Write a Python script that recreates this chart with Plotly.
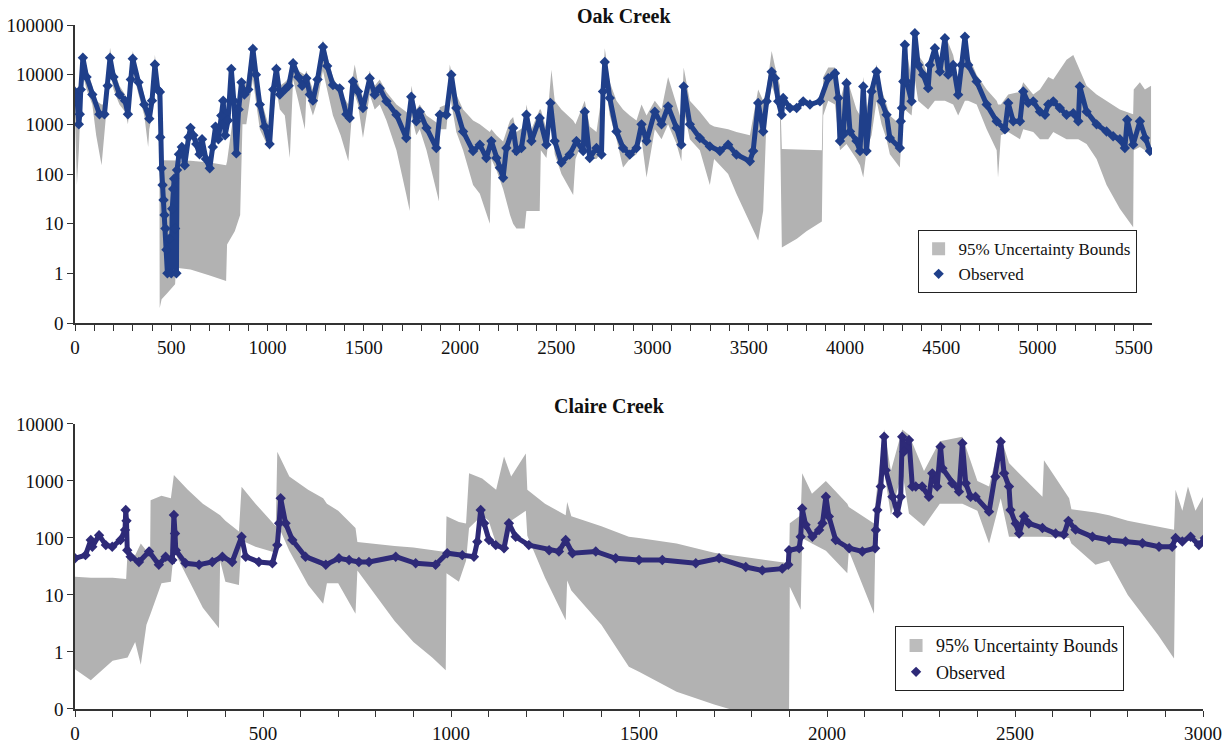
import plotly.graph_objects as go

# ---------------- Oak Creek data ----------------
oak_obs_x = [0, 10, 20, 25, 30, 41, 60, 90, 127, 153, 170, 182, 200, 231, 260, 275, 290, 300, 330, 360,
             386, 400, 415, 430, 441, 443, 450, 455, 460, 465, 470, 475, 480, 490, 500, 505, 510, 515, 520, 527,
             530, 540, 555, 570, 590, 600, 615, 630, 647, 660, 680, 700, 716, 730, 745, 760, 770, 780, 795, 812,
             825, 838, 850, 865, 880, 900, 924, 940, 960, 985, 1011, 1030, 1046, 1064, 1090, 1110, 1133, 1160, 1180, 1202,
             1220, 1236, 1260, 1288, 1310, 1340, 1375, 1410, 1427, 1444, 1470, 1496, 1531, 1557, 1583, 1618, 1670, 1721, 1747, 1773,
             1791, 1826, 1877, 1895, 1929, 1955, 1981, 2016, 2068, 2103, 2137, 2163, 2189, 2207, 2224, 2241, 2276, 2293, 2319, 2345,
             2371, 2414, 2449, 2470, 2492, 2527, 2570, 2605, 2640, 2648, 2674, 2709, 2735, 2743, 2752, 2778, 2813, 2847, 2882, 2917,
             2943, 2969, 3012, 3047, 3081, 3125, 3150, 3162, 3194, 3246, 3298, 3350, 3393, 3436, 3506, 3523, 3549, 3575, 3593, 3619,
             3636, 3653, 3671, 3679, 3714, 3749, 3783, 3818, 3870, 3913, 3948, 3965, 3974, 3991, 4008, 4026, 4060, 4078, 4095, 4112,
             4138, 4164, 4190, 4216, 4233, 4285, 4290, 4296, 4303, 4311, 4320, 4346, 4363, 4380, 4406, 4432, 4441, 4467, 4493, 4519,
             4536, 4562, 4588, 4605, 4623, 4640, 4684, 4736, 4788, 4831, 4848, 4874, 4909, 4926, 4952, 4978, 5013, 5039, 5056, 5082,
             5116, 5151, 5186, 5212, 5220, 5255, 5307, 5359, 5393, 5428, 5454, 5466, 5497, 5532, 5558, 5584]
oak_obs_y = [4500, 3500, 1000, 1600, 5000, 22000, 9000, 4000, 1600, 1600, 6000, 22000, 9000, 4000, 3000, 1600, 8000, 21000, 7000, 2500,
             1300, 3000, 16000, 5000, 4500, 550, 130, 60, 30, 15, 8, 3, 1, 5, 1, 20, 50, 80, 8, 1,
             120, 250, 350, 150, 550, 850, 600, 400, 250, 500, 200, 130, 350, 900, 500, 1500, 3000, 600, 1200, 13000,
             3000, 260, 2000, 7000, 4000, 5000, 33000, 10000, 2500, 900, 400, 5000, 13000, 4000, 5000, 6000, 17000, 9000, 6000, 8500,
             4000, 3000, 8000, 36000, 15000, 6200, 5300, 1600, 1340, 7300, 4600, 2130, 8500, 3940, 5350, 2900, 1560, 530, 3600, 1150,
             1800, 845, 335, 1560, 1560, 10000, 2130, 720, 290, 390, 210, 460, 210, 133, 84, 335, 845, 290, 335, 1560,
             460, 1340, 390, 2700, 460, 170, 246, 460, 290, 1800, 210, 335, 246, 4600, 18000, 3400, 720, 335, 246, 335,
             1000, 460, 1800, 1000, 2300, 845, 390, 5800, 1000, 530, 360, 290, 390, 246, 180, 290, 2700, 720, 2900, 11500,
             8500, 2900, 1560, 3400, 2130, 2130, 2900, 2500, 2900, 8500, 10700, 3400, 460, 620, 6700, 720, 460, 290, 5800, 290,
             4600, 11500, 2900, 1560, 530, 335, 1150, 2130, 7300, 40000, 7300, 2900, 68000, 15700, 10000, 5350, 15700, 34000, 11500, 54000,
             10000, 15700, 3940, 15700, 58000, 15700, 7300, 2500, 1150, 790, 2700, 1150, 1150, 4600, 2700, 2900, 1800, 1560, 2500, 2900,
             2130, 1560, 1680, 1150, 5800, 1800, 1000, 720, 575, 500, 335, 1240, 390, 1150, 530, 290]

oak_band_x = [0, 10, 20, 30, 41, 60, 90, 110, 138, 155, 170, 182, 200, 231, 260, 275, 290, 300, 330, 360,
              380, 386, 400, 415, 430, 438, 440, 450, 480, 520, 525, 600, 700, 785, 790, 830, 858, 870, 890, 924,
              960, 1011, 1030, 1046, 1064, 1090, 1116, 1133, 1160, 1194, 1202, 1236, 1260, 1288, 1340, 1380, 1420, 1444, 1453, 1470,
              1496, 1531, 1557, 1583, 1618, 1670, 1720, 1739, 1747, 1773, 1791, 1826, 1891, 1895, 1929, 1947, 1981, 2016, 2068, 2103,
              2155, 2163, 2189, 2224, 2260, 2276, 2293, 2336, 2345, 2371, 2414, 2420, 2449, 2475, 2492, 2527, 2588, 2600, 2648, 2674,
              2709, 2743, 2752, 2778, 2813, 2847, 2882, 2917, 2943, 2969, 3012, 3047, 3081, 3125, 3150, 3162, 3194, 3246, 3298, 3320,
              3393, 3436, 3506, 3549, 3575, 3593, 3619, 3636, 3662, 3672, 3750, 3800, 3880, 3887, 3913, 3948, 3974, 4008, 4060, 4078,
              4095, 4112, 4138, 4164, 4190, 4216, 4233, 4285, 4294, 4311, 4346, 4363, 4380, 4406, 4432, 4467, 4493, 4519, 4562, 4588,
              4623, 4640, 4684, 4736, 4788, 4795, 4810, 4848, 4909, 4926, 4978, 5013, 5056, 5082, 5151, 5186, 5212, 5255, 5307, 5359,
              5428, 5497, 5500, 5532, 5558, 5590]
oak_band_hi = [6000, 5000, 5000, 8000, 28000, 14000, 6000, 3000, 2500, 2500, 9000, 35000, 14000, 6000, 4000, 2500, 10000, 30000, 10000, 4000,
               2000, 2000, 4500, 25000, 8000, 6000, 600, 190, 190, 190, 190, 185, 170, 150, 180, 2500, 3000, 5000, 7000, 45000,
               4000, 800, 7000, 18000, 6000, 7000, 9000, 22000, 12000, 10000, 12000, 5000, 12000, 50000, 9000, 4500, 2500, 10000, 16000, 7000,
               3500, 12000, 6000, 8000, 4500, 2500, 1800, 1500, 6000, 2000, 2500, 1500, 1000, 2200, 2500, 16000, 4000, 2000, 1200, 1000,
               700, 800, 600, 450, 1200, 1400, 700, 900, 2500, 800, 2000, 2000, 800, 12500, 3000, 2000, 1200, 1000, 3000, 900,
               700, 6000, 34000, 7000, 3000, 2000, 1500, 1200, 2500, 1500, 3000, 2000, 9000, 2500, 1200, 14000, 3000, 1800, 1000, 900,
               800, 700, 600, 5000, 3000, 5000, 30000, 15000, 6000, 320, 310, 300, 300, 9000, 14000, 14000, 3000, 9000, 2000, 1500,
               9000, 2000, 7000, 16000, 5000, 2500, 1500, 1000, 5000, 50000, 8000, 75000, 25000, 18000, 9000, 40000, 18000, 65000, 25000, 8000,
               70000, 25000, 10000, 5000, 3000, 2500, 2500, 4000, 4500, 7000, 4000, 5000, 9000, 8000, 20000, 25000, 15000, 6000, 4000, 3000,
               2000, 1600, 5000, 7000, 5000, 6000]
oak_band_lo = [1500, 60, 300, 3000, 10000, 5000, 2500, 600, 150, 800, 3500, 12000, 5000, 2500, 1800, 1000, 4000, 12000, 4000, 1500,
               350, 800, 1500, 8000, 3000, 2500, 0.2, 0.3, 0.4, 0.6, 1.3, 1.2, 0.9, 0.7, 3.8, 7, 15, 1000, 1000, 8000,
               800, 300, 1500, 5000, 2000, 1500, 210, 8000, 3000, 800, 4000, 1500, 3000, 12000, 1500, 600, 180, 3000, 4000, 2500,
               530, 4000, 2000, 2500, 1200, 300, 40, 18, 1500, 600, 800, 300, 28, 800, 800, 4000, 700, 300, 60, 40,
               10, 200, 120, 50, 15, 10, 8, 8, 18, 18, 18, 300, 210, 1500, 250, 100, 38, 200, 600, 200,
               200, 300, 8000, 1500, 500, 135, 200, 250, 500, 85, 800, 500, 1000, 400, 180, 2000, 500, 300, 60, 200,
               100, 40, 10, 4.6, 18, 1500, 6000, 4000, 1500, 3.3, 5, 7, 11, 1500, 3000, 2500, 300, 400, 200, 150,
               85, 300, 600, 3000, 1000, 500, 250, 135, 600, 2000, 1500, 8000, 3000, 2500, 2000, 3000, 3000, 3000, 2500, 1500,
               3000, 3000, 2500, 800, 300, 85, 600, 700, 500, 800, 700, 500, 500, 700, 500, 500, 500, 400, 200, 60,
               20, 8.5, 300, 350, 300, 250]

# ---------------- Claire Creek data ----------------
claire_obs_x = [0, 28, 42, 46, 64, 82, 99, 121, 133, 135, 137, 139, 148, 170, 197, 223, 241, 259, 263, 266,
                268, 294, 330, 365, 392, 418, 443, 454, 489, 525, 538, 543, 547, 560, 578, 613, 667, 702, 729, 755,
                782, 853, 906, 959, 990, 1030, 1061, 1070, 1079, 1088, 1101, 1119, 1141, 1154, 1172, 1207, 1261, 1287, 1305, 1323,
                1385, 1438, 1500, 1562, 1651, 1713, 1784, 1828, 1881, 1897, 1899, 1926, 1930, 1934, 1943, 1961, 1979, 1988, 1997, 2005,
                2023, 2059, 2094, 2128, 2130, 2134, 2143, 2152, 2156, 2174, 2187, 2196, 2200, 2205, 2218, 2227, 2236, 2253, 2271, 2280,
                2293, 2302, 2307, 2333, 2351, 2360, 2369, 2382, 2395, 2431, 2448, 2462, 2471, 2484, 2488, 2502, 2511, 2524, 2537, 2573,
                2608, 2630, 2642, 2661, 2706, 2750, 2794, 2839, 2883, 2918, 2927, 2945, 2967, 2989, 3005]
claire_obs_y = [44, 50, 92, 70, 112, 75, 70, 92, 138, 310, 200, 61, 47, 38, 58, 34, 47, 41, 253, 120,
                61, 36, 34, 38, 47, 38, 105, 47, 38, 36, 75, 181, 500, 181, 92, 47, 34, 44, 41, 38,
                38, 47, 36, 34, 54, 50, 47, 86, 310, 181, 92, 75, 66, 181, 105, 75, 61, 58, 92, 54,
                58, 44, 41, 41, 36, 44, 31, 27, 29, 34, 61, 66, 105, 330, 170, 105, 138, 181, 530, 238,
                92, 66, 58, 66, 138, 310, 800, 6000, 1550, 530, 270, 530, 6000, 3270, 5240, 800, 800, 800, 530, 1360,
                800, 4000, 1670, 910, 650, 4580, 910, 530, 530, 290, 1190, 4900, 1360, 800, 310, 180, 120, 240, 180, 150,
                120, 115, 200, 140, 105, 92, 87, 81, 70, 70, 100, 87, 105, 75, 100]

claire_band_x = [0, 42, 100, 136, 140, 160, 175, 190, 200, 201, 230, 255, 263, 300, 340, 383, 386, 400, 436, 443,
                 480, 534, 538, 570, 620, 660, 670, 700, 746, 751, 800, 850, 900, 950, 986, 988, 1021, 1040, 1048, 1083,
                 1100, 1120, 1141, 1160, 1199, 1203, 1250, 1305, 1309, 1320, 1400, 1473, 1500, 1600, 1700, 1790, 1899, 1901, 1930, 1934,
                 1960, 1997, 2054, 2058, 2125, 2130, 2152, 2170, 2200, 2218, 2258, 2300, 2360, 2400, 2431, 2462, 2484, 2573, 2577, 2644,
                 2650, 2714, 2750, 2800, 2880, 2923, 2927, 2945, 2960, 2980, 3005]
claire_band_hi = [21, 20, 20, 19, 60, 50, 80, 60, 70, 460, 550, 500, 1270, 700, 400, 250, 250, 200, 130, 795,
                  400, 160, 3270, 1200, 700, 500, 400, 300, 150, 85, 78, 72, 68, 62, 57, 240, 190, 180, 1370, 1100,
                  900, 700, 2700, 1200, 3050, 700, 400, 250, 430, 240, 160, 105, 100, 80, 55, 45, 36, 181, 250, 1370,
                  600, 1000, 400, 350, 180, 500, 8000, 1500, 8000, 6500, 1500, 5000, 6000, 1000, 800, 6000, 2060, 530, 2300, 500,
                  320, 280, 250, 200, 160, 140, 700, 300, 800, 300, 600]
claire_band_lo = [0.5, 0.32, 0.7, 0.77, 0.8, 1.5, 0.6, 3, 4.7, 4.7, 16, 17, 60, 20, 6, 2.6, 40, 17, 15, 90,
                  70, 55, 180, 60, 15, 7, 16, 16, 4.7, 27, 10, 3.5, 1.5, 0.8, 0.48, 24, 17, 40, 150, 250,
                  200, 80, 60, 200, 300, 110, 20, 3.6, 18, 12, 3, 0.55, 0.45, 0.2, 0.12, 0.08, 0.08, 14, 5.5, 100,
                  80, 60, 24, 60, 4.7, 250, 1500, 250, 1500, 270, 160, 400, 400, 300, 80, 500, 105, 105, 105, 100,
                  80, 34, 40, 10, 2, 0.77, 92, 80, 100, 90, 100]

# tick labels
oak_yvals = [0.1, 1, 10, 100, 1000, 10000, 100000]
oak_ytext = ["0", "1", "10", "100", "1000", "10000", "100000"]
claire_yvals = [0.1, 1, 10, 100, 1000, 10000]
claire_ytext = ["0", "1", "10", "100", "1000", "10000"]

BAND = "#b2b2b2"
OAK_C = "#1f3f8a"
CLA_C = "#2e2a78"
FONT = "Liberation Serif"

fig = go.Figure()


def add_chart(xref, yref, bx, hi, lo, ox, oy, color, legend):
    fig.add_trace(go.Scatter(x=bx, y=lo, mode="lines", line=dict(width=0, color=BAND),
                             xaxis=xref, yaxis=yref, showlegend=False, hoverinfo="skip"))
    fig.add_trace(go.Scatter(x=bx, y=hi, mode="lines", line=dict(width=0, color=BAND),
                             fill="tonexty", fillcolor=BAND,
                             xaxis=xref, yaxis=yref, showlegend=False, hoverinfo="skip"))
    fig.add_trace(go.Scatter(x=ox, y=oy, mode="lines+markers",
                             line=dict(width=5, color=color),
                             marker=dict(symbol="diamond", size=8, color=color),
                             xaxis=xref, yaxis=yref, showlegend=False))
    # legend entries
    fig.add_trace(go.Scatter(x=[None], y=[None], mode="markers", name="95% Uncertainty Bounds",
                             marker=dict(symbol="square", size=13, color="#bcbcbc"),
                             xaxis=xref, yaxis=yref, legend=legend))
    fig.add_trace(go.Scatter(x=[None], y=[None], mode="markers", name="Observed",
                             marker=dict(symbol="diamond", size=8, color=color),
                             xaxis=xref, yaxis=yref, legend=legend))


add_chart("x", "y", oak_band_x, oak_band_hi, oak_band_lo, oak_obs_x, oak_obs_y, OAK_C, "legend")
add_chart("x2", "y2", claire_band_x, claire_band_hi, claire_band_lo, claire_obs_x, claire_obs_y, CLA_C, "legend2")

axis_common = dict(showline=True, linecolor="#333333", linewidth=1.5, showgrid=False, zeroline=False,
                   ticks="outside", tickcolor="#333333", ticklen=6, tickwidth=1.3, automargin=False,
                   tickfont=dict(family=FONT, size=19, color="#111111"))

fig.update_layout(
    width=1231, height=751,
    margin=dict(l=75, r=28, t=25, b=42),
    plot_bgcolor="white", paper_bgcolor="white",
    font=dict(family=FONT, size=18, color="#111111"),
    xaxis=dict(domain=[0, 0.9548], anchor="y", range=[0, 5595], dtick=500, tick0=0,
               minor=dict(dtick=100, ticks="outside", ticklen=6, tickcolor="#333333"), **axis_common),
    yaxis=dict(domain=[0.5643, 1.0], anchor="x", type="log", range=[-1, 5],
               tickvals=oak_yvals, ticktext=oak_ytext, **axis_common),
    xaxis2=dict(domain=[0, 1.0], anchor="y2", range=[0, 3000], dtick=500, tick0=0,
                minor=dict(dtick=100, ticks="outside", ticklen=6, tickcolor="#333333"), **axis_common),
    yaxis2=dict(domain=[0.0, 0.4167], anchor="x2", type="log", range=[-1, 4],
                tickvals=claire_yvals, ticktext=claire_ytext, **axis_common),
    legend=dict(x=0.747, y=0.700, xanchor="left", yanchor="top", bgcolor="white", traceorder="normal",
                bordercolor="#222222", borderwidth=1, font=dict(family=FONT, size=17, color="#111111"),
                itemsizing="trace", tracegroupgap=2),
    legend2=dict(x=0.727, y=0.121, xanchor="left", yanchor="top", bgcolor="white", traceorder="normal",
                 bordercolor="#222222", borderwidth=1, font=dict(family=FONT, size=18, color="#111111"),
                 itemsizing="trace", tracegroupgap=2),
    annotations=[
        dict(text="<b>Oak Creek</b>", x=0.487, y=1.0, xref="paper", yref="paper", xanchor="center",
             yanchor="bottom", yshift=-4, showarrow=False, font=dict(family=FONT, size=20, color="#111111")),
        dict(text="<b>Claire Creek</b>", x=0.474, y=0.4167, xref="paper", yref="paper", xanchor="center",
             yanchor="bottom", yshift=5, showarrow=False, font=dict(family=FONT, size=20, color="#111111")),
    ],
)

fig.write_html("out.html", config={"displayModeBar": False},
               post_script="document.body.style.margin='0';document.body.style.overflow='hidden';")
